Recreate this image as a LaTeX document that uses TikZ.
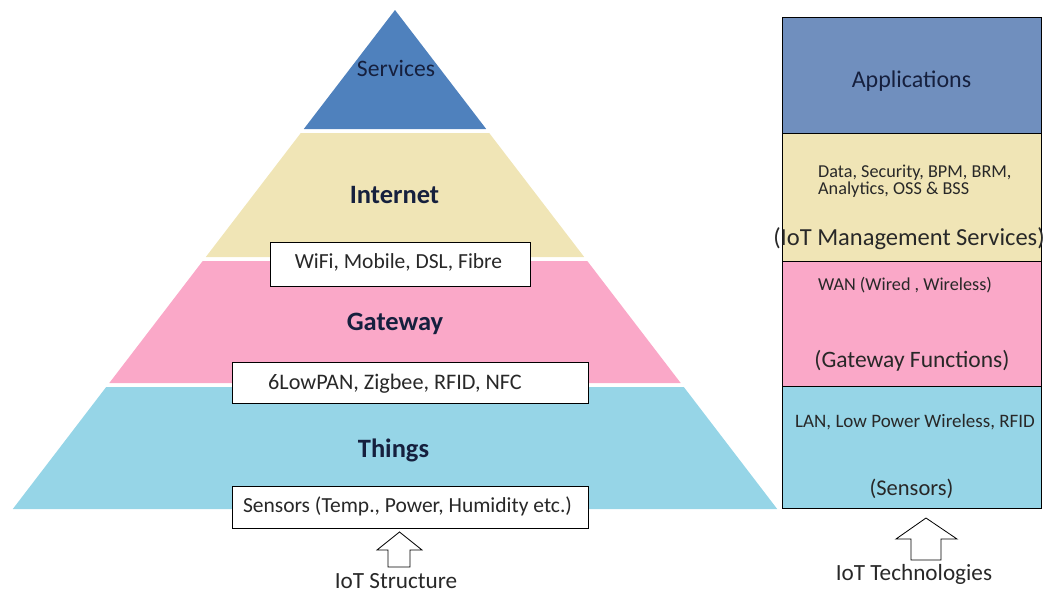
\documentclass[tikz,border=0pt]{standalone}
\usepackage{fontspec}
\setmainfont{Carlito}
\definecolor{svc}{RGB}{79,129,189}
\definecolor{app}{RGB}{112,143,190}
\definecolor{beige}{RGB}{240,229,182}
\definecolor{pinkl}{RGB}{250,168,200}
\definecolor{bluel}{RGB}{150,213,231}
\definecolor{navy}{RGB}{22,32,62}
\definecolor{txt}{RGB}{40,40,40}
\tikzset{
  lbl/.style={font=\fontsize{26.5}{30}\selectfont\bfseries, text=navy, inner sep=0pt, anchor=base},
  wbox/.style={draw=black, line width=0.9pt, fill=white, inner sep=0pt},
  btext/.style={font=\fontsize{21.5}{25}\selectfont, text=txt, inner sep=0pt, anchor=base},
  big/.style={font=\fontsize{23.5}{27}\selectfont, text=txt, inner sep=0pt, anchor=base},
  small/.style={font=\fontsize{18.2}{17}\selectfont, text=txt, inner sep=0pt, anchor=base west, align=left},
  captext/.style={font=\fontsize{23.2}{27}\selectfont, text=txt, inner sep=0pt, anchor=base},
  barrow/.style={draw=black, line width=0.8pt, fill=white},
  sect/.style={draw=black, line width=0.9pt}
}
\begin{document}
\begin{tikzpicture}[x=1pt,y=-1pt]
\useasboundingbox (0,0) rectangle (1045,592);
% pyramid layers
\fill[svc] (395,10) -- (486.2,129) -- (303.8,129) -- cycle;
\fill[beige] (300.8,133) -- (489.2,133) -- (584.2,257) -- (205.8,257) -- cycle;
\fill[pinkl] (202.7,261) -- (587.3,261) -- (680.7,383) -- (109.3,383) -- cycle;
\fill[bluel] (106.2,387) -- (683.8,387) -- (777.2,509) -- (12.8,509) -- cycle;
% labels
\node[font=\fontsize{23.6}{27}\selectfont, text=navy, inner sep=0pt, anchor=base] (services) at (396,76) {Services};
\node[lbl] (internet) at (394.5,203) {Internet};
\node[lbl] (gateway) at (395,330) {Gateway};
\node[lbl] (things) at (393.5,457) {Things};
% white boxes
\node[wbox, minimum width=260pt, minimum height=44pt] (wifi) at (400,264) {};
\node[btext] (wifit) at (398.5,268) {WiFi, Mobile, DSL, Fibre};
\node[wbox, minimum width=356pt, minimum height=41pt] (lowpan) at (410,382.5) {};
\node[btext, font=\fontsize{22.2}{25}\selectfont] (lowpant) at (395,389) {6LowPAN, Zigbee, RFID, NFC};
\node[wbox, minimum width=356pt, minimum height=42pt] (sensors) at (410,507) {};
\node[btext] (sensorst) at (407.5,512) {Sensors (Temp., Power, Humidity etc.)};
% structure arrow
\draw[barrow] (399.5,532) -- (422,550) -- (410,550) -- (410,567) -- (388,567) -- (388,550) -- (377,550) -- cycle;
\node[captext] (struct) at (396,588) {IoT Structure};
% right column
\fill[app] (782,17) rectangle (1041,133);
\fill[beige] (782,133) rectangle (1041,261);
\fill[pinkl] (782,261) rectangle (1041,386);
\fill[bluel] (782,386) rectangle (1041,508);
\draw[draw=black!75, line width=1pt] (782,17) -- (1041,17);
\draw[sect] (782,133) -- (1041,133);
\draw[sect] (782,261) -- (1041,261);
\draw[sect] (782,386) -- (1041,386);
\draw[sect] (782,17) rectangle (1041,508);
\node[font=\fontsize{24}{28}\selectfont, text=navy, inner sep=0pt, anchor=base] (apps) at (911.5,87) {Applications};
\node[small] (data) at (818,194) {Data, Security, BPM, BRM,\\Analytics, OSS \& BSS};
\node[big, font=\fontsize{24.5}{28}\selectfont] (mgmt) at (909,245) {(IoT Management Services)};
\node[small] (wan) at (818,290) {WAN (Wired , Wireless)};
\node[big] (gwf) at (912,367) {(Gateway Functions)};
\node[small, anchor=base, font=\fontsize{19}{22}\selectfont] (lan) at (915,427) {LAN, Low Power Wireless, RFID};
\node[big, font=\fontsize{22.5}{26}\selectfont] (sens) at (911.5,495) {(Sensors)};
\draw[barrow] (926,518) -- (957,539) -- (941,539) -- (941,560) -- (911,560) -- (911,539) -- (896,539) -- cycle;
\node[captext] (tech) at (914,580) {IoT Technologies};
\end{tikzpicture}
\end{document}
